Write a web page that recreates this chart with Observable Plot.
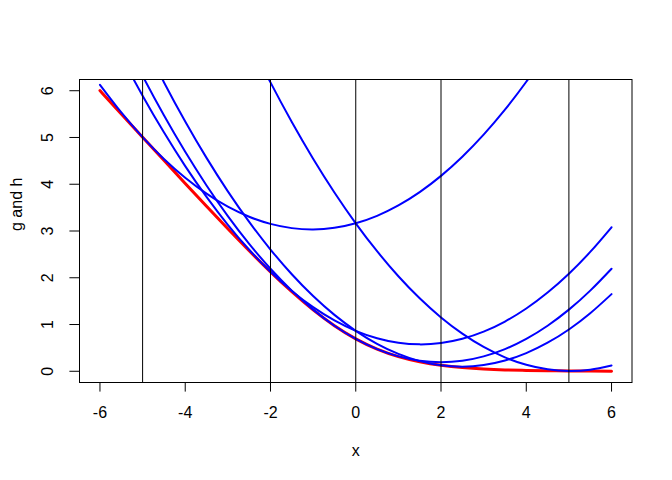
<!DOCTYPE html>
<html>
<head>
<meta charset="utf-8">
<script src="https://cdn.jsdelivr.net/npm/d3@7"></script>
<script src="https://cdn.jsdelivr.net/npm/@observablehq/plot@0.6"></script>
<style>
  html, body { margin: 0; padding: 0; background: #fff; }
  svg { display: block; }
</style>
</head>
<body>
<div id="chart"></div>
<script>
// x sample positions
const xs = [-6,-5.5,-5,-4.5,-4,-3.5,-3,-2.5,-2,-1.5,-1,-0.5,0,0.5,1,1.5,2,2.5,3,3.5,4,4.5,5,5.5,6];
// red curve g(x)
const gVals = [6.0025,5.5041,5.0067,4.5110,4.0181,3.5297,3.0486,2.5789,2.1269,1.7014,1.3133,0.9741,0.6931,0.4741,0.3133,0.2014,0.1269,0.0789,0.0486,0.0297,0.0181,0.0110,0.0067,0.0041,0.0025];
// blue curves h(x | y) for y = -5, -2, 0, 2, 5
const hAtM5 = [6.125,5.5346,5.0067,4.5413,4.1384,3.798,3.5201,3.3047,3.1518,3.0614,3.0335,3.068,3.1652,3.3248,3.5469,3.8315,4.1786,4.5882,5.0603,5.5949,6.192,6.8516,7.5737,8.3584,9.2057];
const hAtM2 = [7.650,6.741,5.8943,5.110,4.3885,3.7294,3.1327,2.5986,2.1269,1.7178,1.3711,1.087,0.8653,0.7062,0.6095,0.5754,0.6037,0.6946,0.8479,1.0638,1.3421,1.683,2.0863,2.5522,3.0805];
const hAt0 = [8.193,7.2244,6.3181,5.4744,4.6931,3.9744,3.3181,2.7244,2.1931,1.7244,1.3181,0.9744,0.6931,0.4744,0.3181,0.2244,0.1931,0.2244,0.3181,0.4744,0.6931,0.9744,1.3181,1.7244,2.1931];
const hAt2 = [9.0805,8.0522,7.0863,6.183,5.3421,4.5638,3.8479,3.1946,2.6037,2.0754,1.6095,1.2062,0.8653,0.587,0.3711,0.2178,0.1269,0.0986,0.1327,0.2294,0.3885,0.6102,0.8943,1.241,1.6501];
const hAt5 = [15.2,13.857,12.573,11.351,10.191,9.094,8.0595,7.0875,6.1779,5.3309,4.5463,3.8243,3.1647,2.5677,2.0331,1.5611,1.1515,0.8045,0.5199,0.2979,0.1383,0.0413,0.0067,0.0347,0.1251];
// vertical reference lines
const vlines = [-5, -2, 0, 2, 5];
// ticks
const xTicks = [-6, -4, -2, 0, 2, 4, 6];
const yTicks = [0, 1, 2, 3, 4, 5, 6];

const gData = xs.map((x, i) => ({x, y: gVals[i]}));
const hSeries = [["-5", hAtM5], ["-2", hAtM2], ["0", hAt0], ["2", hAt2], ["5", hAt5]];
const hData = hSeries.flatMap(([k, arr]) => xs.map((x, i) => ({x, y: arr[i], s: k})));

const fontFamily = "'Liberation Sans', Arial, Helvetica, sans-serif";

const chart = Plot.plot({
  width: 672,
  height: 480,
  marginLeft: 79,
  marginRight: 40.5,
  marginTop: 79,
  marginBottom: 98,
  style: {fontFamily, fontSize: "16px", background: "#fff", color: "black"},
  x: {domain: [-6.48, 6.48]},
  y: {domain: [-0.24, 6.24]},
  marks: [
    Plot.line(gData, {x: "x", y: "y", stroke: "#FF0000", strokeWidth: 3, curve: "natural", clip: true}),
    Plot.line(hData, {x: "x", y: "y", z: "s", stroke: "#0000FF", strokeWidth: 2, curve: "natural", clip: true}),
    Plot.ruleX(vlines, {stroke: "black", strokeWidth: 1}),
    Plot.frame({stroke: "black", strokeWidth: 1}),
    Plot.axisX(xTicks, {tickSize: 9.6, tickPadding: 15, fontSize: 16, label: null, stroke: "black", tickFormat: d => String(d)}),
    Plot.axisY(yTicks, {tickSize: 9.6, tickFormat: () => "", label: null, stroke: "black"}),
    Plot.text(yTicks, {y: d => d, text: d => String(d), frameAnchor: "left", dx: -31.5, rotate: -90, textAnchor: "middle", lineAnchor: "middle", fontSize: 16, fill: "black"}),
    Plot.text(["x"], {frameAnchor: "bottom", dy: 68, text: d => d, fontSize: 16, fill: "black", lineAnchor: "middle"}),
    Plot.text(["g and h"], {frameAnchor: "left", dx: -63, rotate: -90, text: d => d, fontSize: 16, fill: "black", lineAnchor: "middle"})
  ]
});
document.getElementById("chart").appendChild(chart);
</script>
</body>
</html>
